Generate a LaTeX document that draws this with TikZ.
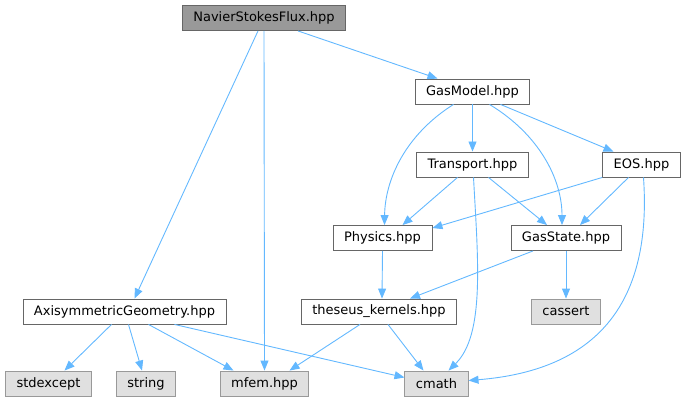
\documentclass[tikz,border=0pt]{standalone}
\usepackage{fontspec}
\setmainfont{DejaVu Sans}
\usetikzlibrary{arrows.meta}
\definecolor{edgeblue}{HTML}{63B8FF}
\definecolor{hdrfill}{HTML}{999999}
\definecolor{hdrline}{HTML}{666666}
\definecolor{sysfill}{HTML}{E0E0E0}
\definecolor{sysline}{HTML}{999999}
\begin{document}
\begin{tikzpicture}[x=1pt,y=-1pt,
  file/.style={draw=hdrline, fill=white, line width=0.9pt, minimum height=25pt, inner xsep=11pt, inner ysep=0pt, font=\fontsize{13}{15}\selectfont},
  top/.style={file, fill=hdrfill},
  sys/.style={file, draw=sysline, fill=sysfill},
  dep/.style={draw=edgeblue, line width=0.9pt, -{Triangle[length=10pt,width=8pt]}}]
\useasboundingbox (0,0) rectangle (685,403);
\node[top] (nsf) at (264,18){NavierStokesFlux.hpp};
\node[file] (gasmodel) at (472.5,91.5){GasModel.hpp};
\node[file] (transport) at (472.5,164.5){Transport.hpp};
\node[file] (eos) at (641.5,164.5){EOS.hpp};
\node[file] (physics) at (382.5,238){Physics.hpp};
\node[file] (gasstate) at (566,238){GasState.hpp};
\node[file] (theseus) at (379,311.5){theseus\_kernels.hpp};
\node[sys] (cassert) at (566,311.5){cassert};
\node[file] (axisym) at (124.5,311.5){AxisymmetricGeometry.hpp};
\node[sys] (stdexcept) at (48.5,383.5){stdexcept};
\node[sys] (string) at (146,383.5){string};
\node[sys] (mfem) at (264.5,383.5){mfem.hpp};
\node[sys] (cmath) at (436.5,383.5){cmath};
\draw[dep]([xshift=34pt]nsf.south) -- ([xshift=-35pt]gasmodel.north);
\draw[dep]([xshift=-6pt]nsf.south) -- ([xshift=10pt]axisym.north);
\draw[dep](nsf.south) -- (mfem.north);
\draw[dep]([xshift=-19pt]gasmodel.south) .. controls (405,135) and (385,180) .. ([xshift=2pt]physics.north);
\draw[dep](gasmodel.south) -- (transport.north);
\draw[dep]([xshift=17pt]gasmodel.south) .. controls (540,135) and (562,180) .. ([xshift=-4pt]gasstate.north);
\draw[dep]([xshift=28pt]gasmodel.south) -- ([xshift=-28pt]eos.north);
\draw[dep]([xshift=-15pt]transport.south) -- ([xshift=20pt]physics.north);
\draw[dep]([xshift=16pt]transport.south) -- ([xshift=-19pt]gasstate.north);
\draw[dep]([xshift=1pt]transport.south) .. controls (478,260) and (485,335) .. ([xshift=12pt]cmath.north);
\draw[dep](eos.south west) -- ([yshift=-3pt]physics.north east);
\draw[dep]([xshift=-13pt]eos.south) -- ([xshift=14pt]gasstate.north);
\draw[dep]([xshift=2pt]eos.south) .. controls (652,300) and (600,370) .. ([yshift=3pt]cmath.east);
\draw[dep](physics.south) -- ([xshift=3pt]theseus.north);
\draw[dep]([xshift=-33pt]gasstate.south) -- ([xshift=31pt]theseus.north);
\draw[dep](gasstate.south) -- (cassert.north);
\draw[dep]([xshift=-19pt]theseus.south) -- ([xshift=25pt]mfem.north);
\draw[dep]([xshift=9pt]theseus.south) -- ([xshift=-13pt]cmath.north);
\draw[dep]([xshift=-13pt]axisym.south) -- ([xshift=16pt]stdexcept.north);
\draw[dep]([xshift=4pt]axisym.south) -- ([xshift=-4pt]string.north);
\draw[dep]([xshift=24pt]axisym.south) -- ([xshift=-31pt]mfem.north);
\draw[dep]([xshift=50pt]axisym.south) -- ([yshift=6pt]cmath.west);
\end{tikzpicture}
\end{document}
